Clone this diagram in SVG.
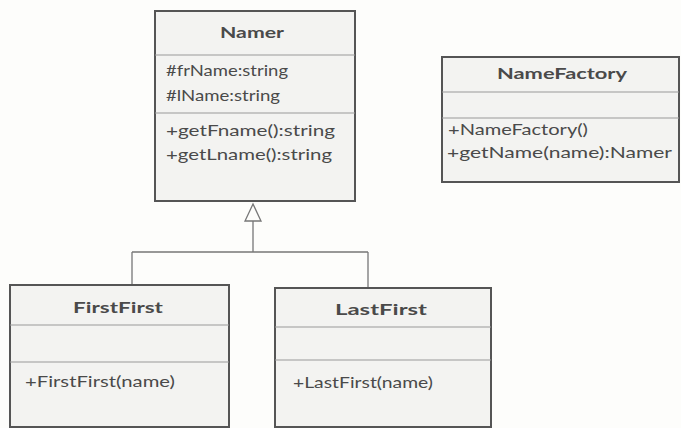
<svg xmlns="http://www.w3.org/2000/svg" width="681" height="428" viewBox="0 0 681 428">
<style>
.box{fill:#f3f3f1;stroke:#555;stroke-width:2}
.sep{stroke:#999;stroke-width:1.2}
.t{font-family:Lato,"Open Sans",sans-serif;font-size:16px;fill:#4a4a4a}
.b{font-weight:bold}
.c{fill:none;stroke:#777;stroke-width:1.3}
</style>
<rect width="681" height="428" fill="#fdfdfb"/>
<g id="connectors">
<polygon class="c" points="253,204 245,221 261,221" fill="#fff"/>
<path class="c" d="M253,221 V252 M132,252 H368 M132,252 V285 M368,252 V288"/>
</g>
<g id="Namer">
<rect class="box" x="155" y="11" width="200" height="190"/>
<line class="sep" x1="155" y1="55" x2="355" y2="55"/>
<line class="sep" x1="155" y1="113" x2="355" y2="113"/>
<text class="t b" x="220" y="38" textLength="64" lengthAdjust="spacingAndGlyphs">Namer</text>
<text class="t" x="166" y="76" textLength="122" lengthAdjust="spacingAndGlyphs">#frName:string</text>
<text class="t" x="166" y="101" textLength="114" lengthAdjust="spacingAndGlyphs">#lName:string</text>
<text class="t" x="166" y="136" textLength="169" lengthAdjust="spacingAndGlyphs">+getFname():string</text>
<text class="t" x="166" y="160" textLength="166" lengthAdjust="spacingAndGlyphs">+getLname():string</text>
</g>
<g id="NameFactory">
<rect class="box" x="442" y="57" width="237" height="125"/>
<line class="sep" x1="442" y1="92" x2="679" y2="92"/>
<line class="sep" x1="442" y1="118" x2="679" y2="118"/>
<text class="t b" x="497" y="79" textLength="130" lengthAdjust="spacingAndGlyphs">NameFactory</text>
<text class="t" x="448" y="135" textLength="140" lengthAdjust="spacingAndGlyphs">+NameFactory()</text>
<text class="t" x="447" y="158" textLength="225" lengthAdjust="spacingAndGlyphs">+getName(name):Namer</text>
</g>
<g id="FirstFirst">
<rect class="box" x="10" y="285" width="219" height="142"/>
<line class="sep" x1="10" y1="325" x2="229" y2="325"/>
<line class="sep" x1="10" y1="362" x2="229" y2="362"/>
<text class="t b" x="73" y="313" textLength="90" lengthAdjust="spacingAndGlyphs">FirstFirst</text>
<text class="t" x="25" y="387" textLength="150" lengthAdjust="spacingAndGlyphs">+FirstFirst(name)</text>
</g>
<g id="LastFirst">
<rect class="box" x="275" y="288" width="216" height="139"/>
<line class="sep" x1="275" y1="327" x2="491" y2="327"/>
<line class="sep" x1="275" y1="360" x2="491" y2="360"/>
<text class="t b" x="335" y="315" textLength="92" lengthAdjust="spacingAndGlyphs">LastFirst</text>
<text class="t" x="293" y="388" textLength="140" lengthAdjust="spacingAndGlyphs">+LastFirst(name)</text>
</g>
</svg>
